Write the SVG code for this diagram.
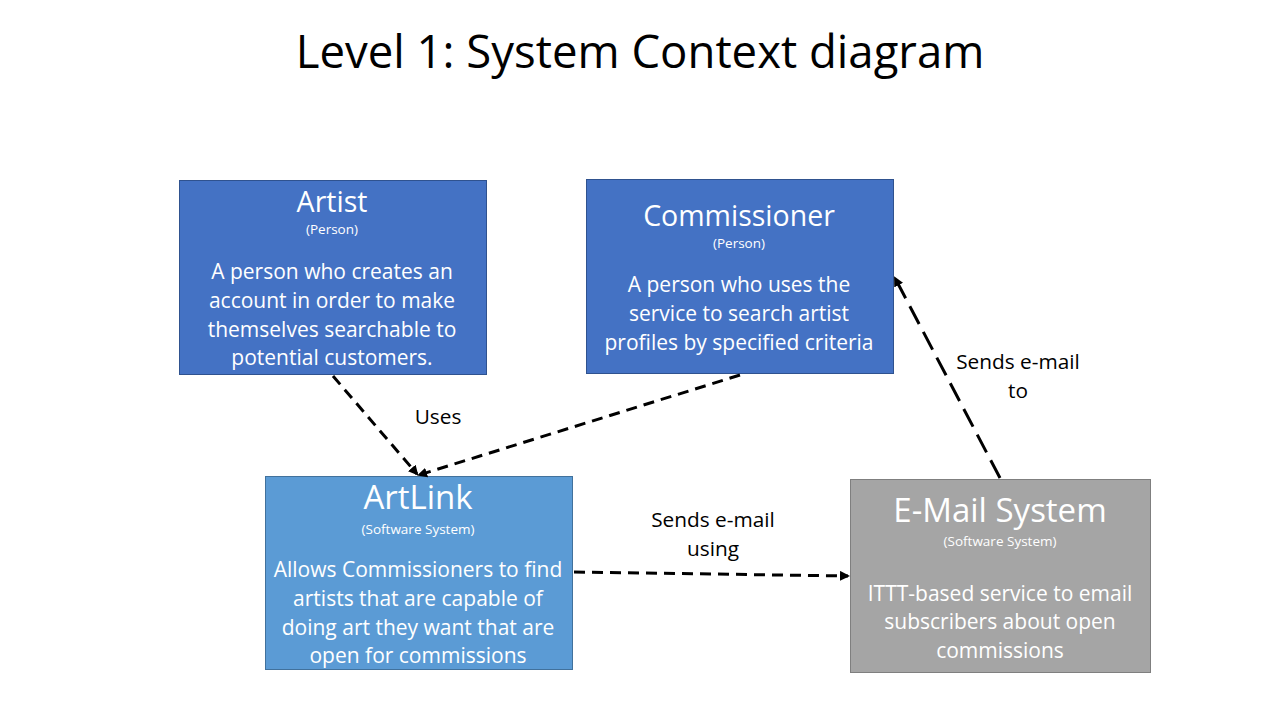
<svg xmlns="http://www.w3.org/2000/svg" width="1280" height="720" viewBox="0 0 1280 720">
<defs>
<marker id="ah" markerWidth="10" markerHeight="10" refX="8" refY="5" orient="auto" markerUnits="userSpaceOnUse">
<path d="M0,0 L10,5 L0,10 Z" fill="#000"/>
</marker>
<style>
text{font-family:"Open Sans","Liberation Sans",sans-serif;text-anchor:middle}
.t{fill:#fff}
.title{font-size:45.5px;fill:#000}
.name{font-size:28.5px}
.big{font-size:33px}
.kind{font-size:13.5px}
.body{font-size:21px}
.lbl{font-size:20.8px;fill:#000}
.c{fill:none;stroke:#000;stroke-width:3;stroke-dasharray:11 7}
.cl{fill:none;stroke:#000;stroke-width:3;stroke-dasharray:20 9}
</style>
</defs>
<rect width="1280" height="720" fill="#fff"/>
<text class="title" x="640" y="68">Level 1: System Context diagram</text>
<g id="artist">
<rect x="179.5" y="180.5" width="307" height="194" fill="#4472C4" stroke="#2F528F"/>
<text class="t name" x="332" y="212">Artist</text>
<text class="t kind" x="332" y="234">(Person)</text>
<text class="t body" x="332" y="279">A person who creates an</text>
<text class="t body" x="332" y="308">account in order to make</text>
<text class="t body" x="332" y="337">themselves searchable to</text>
<text class="t body" x="332" y="365">potential customers.</text>
</g>
<g id="commissioner">
<rect x="586.5" y="179.5" width="307" height="194" fill="#4472C4" stroke="#2F528F"/>
<text class="t name" x="739" y="226">Commissioner</text>
<text class="t kind" x="739" y="248">(Person)</text>
<text class="t body" x="739" y="292">A person who uses the</text>
<text class="t body" x="739" y="321">service to search artist</text>
<text class="t body" x="739" y="350">profiles by specified criteria</text>
</g>
<g id="artlink">
<rect x="265.5" y="476.5" width="307" height="193" fill="#5B9BD5" stroke="#41719C"/>
<text class="t big" x="418" y="509">ArtLink</text>
<text class="t kind" x="418" y="534">(Software System)</text>
<text class="t body" x="418" y="577">Allows Commissioners to find</text>
<text class="t body" x="418" y="606">artists that are capable of</text>
<text class="t body" x="418" y="635">doing art they want that are</text>
<text class="t body" x="418" y="663">open for commissions</text>
</g>
<g id="email">
<rect x="850.5" y="479.5" width="300" height="193" fill="#A5A5A5" stroke="#7F7F7F"/>
<text class="t big" x="1000" y="522">E-Mail System</text>
<text class="t kind" x="1000" y="546">(Software System)</text>
<text class="t body" x="1000" y="601">ITTT-based service to email</text>
<text class="t body" x="1000" y="629">subscribers about open</text>
<text class="t body" x="1000" y="658">commissions</text>
</g>
<g id="connectors">
<path class="c" d="M333,376 L417,474" marker-end="url(#ah)"/>
<path class="c" d="M740,375 L419,475" marker-end="url(#ah)"/>
<path class="c" d="M574,572 L848,576" marker-end="url(#ah)"/>
<path class="cl" d="M1000,478 L895,278" marker-end="url(#ah)"/>
<text class="lbl" x="438" y="424">Uses</text>
<text class="lbl" x="713" y="527">Sends e-mail</text>
<text class="lbl" x="713" y="556">using</text>
<text class="lbl" x="1018" y="369">Sends e-mail</text>
<text class="lbl" x="1018" y="398">to</text>
</g>
</svg>
